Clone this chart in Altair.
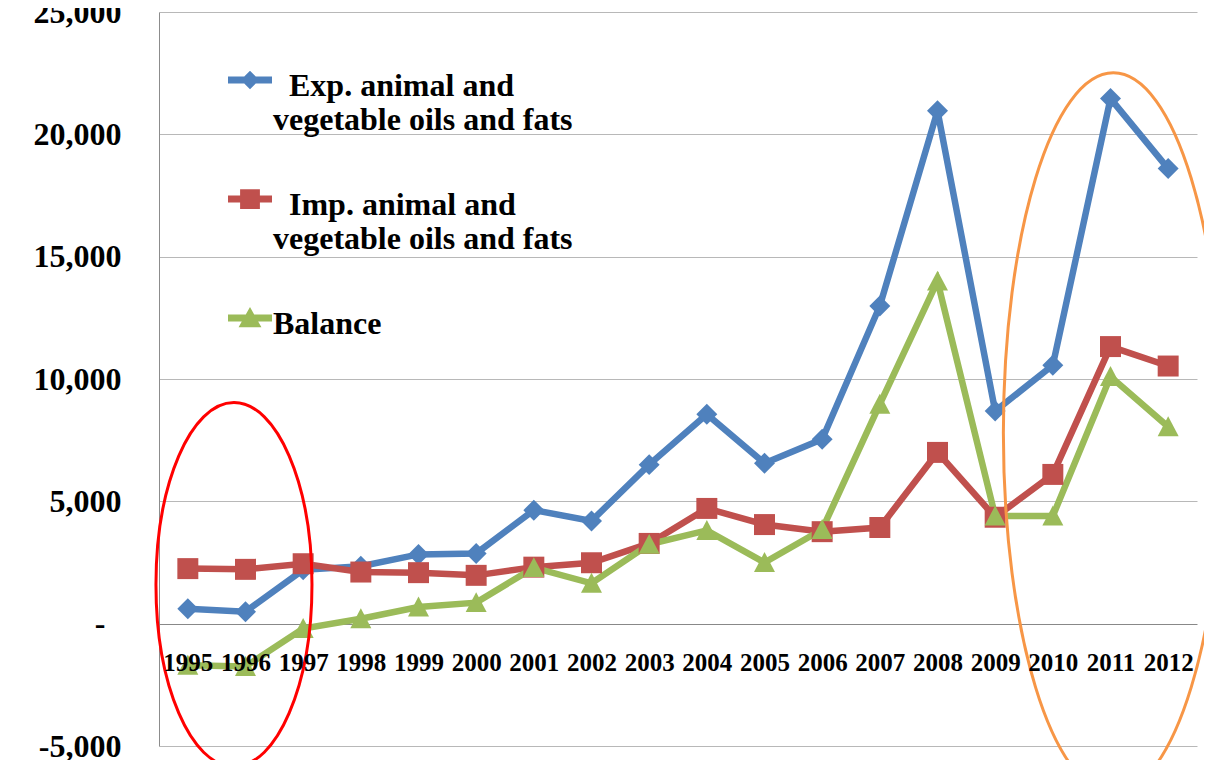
import altair as alt
import pandas as pd

years = list(range(1995, 2013))
exports = [613, 490, 2200, 2350, 2830, 2870, 4640, 4200, 6500, 8560, 6560, 7540,
           12985, 20960, 8690, 10560, 21460, 18600]
imports = [2250, 2220, 2450, 2110, 2085, 1975, 2310, 2490, 3280, 4710, 4050, 3760,
           3930, 7000, 4350, 6100, 11325, 10530]
balance = [-1700, -1750, -200, 200, 680, 860, 2290, 1650, 3240, 3810, 2500, 3850,
           8970, 14000, 4400, 4400, 10100, 8050]
series_names = ["Exp. animal and vegetable oils and fats",
                "Imp. animal and vegetable oils and fats",
                "Balance"]
y_ticks = [-5000, 0, 5000, 10000, 15000, 20000, 25000]

# annotation ellipse centres (data coordinates)
red_ellipse = {"year": [1995.8], "value": [1600]}
orange_ellipse = {"year": [2011.05], "value": [7800]}

rows = []
for name, vals in zip(series_names, [exports, imports, balance]):
    for yr, v in zip(years, vals):
        rows.append({"year": yr, "value": v, "series": name})
df = pd.DataFrame(rows)

colors = ["#4F81BD", "#C0504D", "#9BBB59"]
marker_paths = ["M0,-1L1,0L0,1L-1,0Z",
                "M-1,-1L1,-1L1,1L-1,1Z",
                "M0,-1L1,0.9L-1,0.9Z"]


def legend_path(marker, dy):
    """Legend glyph: a short line segment plus the series marker, shifted by dy units."""
    bar = [(-1, -0.16), (1, -0.16), (1, 0.16), (-1, 0.16)]
    def poly(pts):
        return "M" + "L".join(f"{x:.3f},{y + dy:.3f}" for x, y in pts) + "Z"
    return poly(bar) + " " + poly(marker)


legend_paths = [
    legend_path([(0, -0.42), (0.42, 0), (0, 0.42), (-0.42, 0)], -0.27),
    legend_path([(-0.45, -0.45), (0.45, -0.45), (0.45, 0.45), (-0.45, 0.45)], -0.27),
    legend_path([(0, -0.5), (0.52, 0.42), (-0.52, 0.42)], -0.27),
]

FONT = "Liberation Serif"
ZW = "\u200b"
SP = "\u00a0"

x_enc = alt.X("year:Q",
              scale=alt.Scale(domain=[1994.5, 2012.5], nice=False, zero=False),
              axis=alt.Axis(values=years, format="d", offset=-122, domain=False,
                            ticks=False, tickSize=0, grid=False, title=None,
                            labelFont=FONT, labelFontWeight="bold", labelFontSize=25,
                            labelColor="black", labelPadding=38, labelBaseline="middle",
                            labelFlush=False, labelOverlap=False, zindex=1))
y_label_expr = ("datum.value == 0 ? '-" + SP + SP + ZW + "' : "
                "(datum.value < 0 ? '-' + format(-datum.value, ',') : format(datum.value, ','))")
y_enc = alt.Y("value:Q",
              scale=alt.Scale(domain=[-5000, 25000], nice=False, zero=False),
              axis=alt.Axis(values=y_ticks, title=None, ticks=False, tickSize=0,
                            labelExpr=y_label_expr,
                            labelFont=FONT, labelFontWeight="bold", labelFontSize=32,
                            labelColor="black", labelPadding=38, labelFlush=False,
                            labelOverlap=False,
                            domainColor="#8c8c8c", domainWidth=1,
                            gridColor=alt.condition("datum.value == 0", alt.value("#888888"), alt.value("#b8b8b8")),
                            gridWidth=1))

color_scale = alt.Scale(domain=series_names, range=colors)

lines = alt.Chart(df).mark_line(strokeWidth=6.5).encode(
    x=x_enc, y=y_enc,
    color=alt.Color("series:N", scale=color_scale, legend=None),
    detail="series:N",
)

points = alt.Chart(df).mark_point(filled=True, opacity=1, size=440, strokeWidth=0).encode(
    x=x_enc, y=y_enc,
    color=alt.Color("series:N", scale=color_scale, legend=None),
    shape=alt.Shape("series:N", scale=alt.Scale(domain=series_names, range=marker_paths), legend=None),
)

legend_expr = ("indexof(datum.label, ' vegetable') > 0 ? "
               "['" + ZW + SP + SP + "' + slice(datum.label, 0, indexof(datum.label, ' vegetable')), "
               "slice(datum.label, indexof(datum.label, ' vegetable') + 1)] : datum.label")

leg = alt.Legend(orient="none", legendX=69, legendY=52, title=None,
                 labelFont=FONT, labelFontWeight="bold", labelFontSize=32,
                 labelColor="black", labelLimit=800, labelOffset=1,
                 symbolSize=1936, symbolStrokeWidth=0, rowPadding=47, padding=0,
                 labelExpr=legend_expr)

legend_layer = alt.Chart(df).mark_point(filled=True, opacity=1).encode(
    x=x_enc, y=y_enc,
    color=alt.Color("series:N", scale=color_scale, legend=leg),
    shape=alt.Shape("series:N", scale=alt.Scale(domain=series_names, range=legend_paths), legend=leg),
).transform_filter("false")


def ellipse_path(a):
    k = 0.5523
    return (f"M{a:.4f},0 C{a:.4f},{k} {a*k:.4f},1 0,1 C{-a*k:.4f},1 {-a:.4f},{k} {-a:.4f},0 "
            f"C{-a:.4f},{-k} {-a*k:.4f},-1 0,-1 C{a*k:.4f},-1 {a:.4f},{-k} {a:.4f},0 Z")


red_ell = alt.Chart(pd.DataFrame(red_ellipse)).mark_point(
    shape=ellipse_path(78 / 182), size=364 ** 2, filled=False, stroke="#FF0000",
    strokeWidth=3, opacity=1).encode(
    x=alt.X("year:Q"), y=alt.Y("value:Q"))

orange_ell = alt.Chart(pd.DataFrame(orange_ellipse)).mark_point(
    shape=ellipse_path(110 / 360), size=720 ** 2, filled=False, stroke="#F79646",
    strokeWidth=3, opacity=1).encode(
    x=alt.X("year:Q"), y=alt.Y("value:Q"))

chart = alt.layer(lines, points, legend_layer, red_ell, orange_ell).resolve_scale(
    color="independent", shape="independent"
).properties(
    width=1038, height=734,
    autosize=alt.AutoSizeParams(type="none"),
    padding={"left": 151, "top": 4, "right": 7, "bottom": 20},
    background="white",
).configure_view(stroke=None)

chart.save("out.html", embed_options={"renderer": "svg", "actions": False})
